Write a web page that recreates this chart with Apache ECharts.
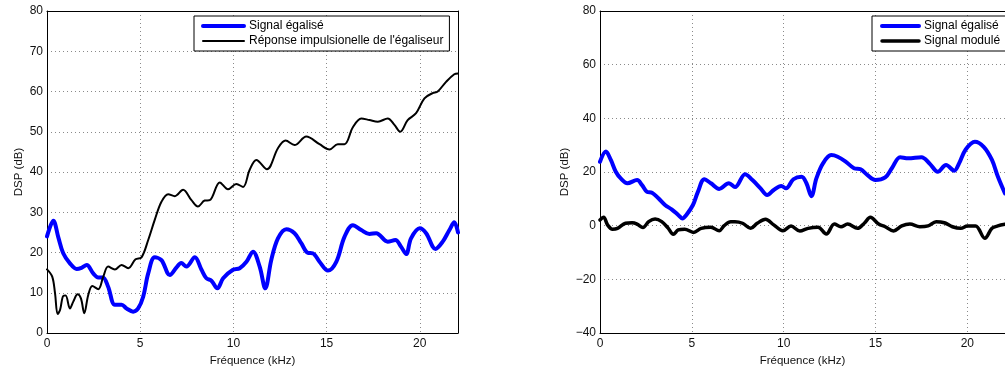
<!DOCTYPE html>
<html>
<head>
<meta charset="utf-8">
<script src="https://cdn.jsdelivr.net/npm/echarts@6/dist/echarts.min.js"></script>
<style>
  html, body { margin: 0; padding: 0; background: #fff; }
  #chart { width: 1005px; height: 372px; }
</style>
</head>
<body>
<div id="chart"></div>
<script>
// Frequency axis ticks (kHz) and DSP axis ranges
const freqTicks = [0, 5, 10, 15, 20];
const freqMax = 22.05;

// Left panel: equalised signal
const eqLeftFreq = [0, 0.34, 0.6, 0.87, 1.23, 1.59, 1.85, 2.13, 2.48, 2.75, 3.0, 3.28, 3.64, 4.0, 4.27, 4.62, 4.89, 5.16, 5.43, 5.78, 6.14, 6.59, 6.95, 7.2, 7.48, 7.93, 8.29, 8.55, 8.82, 9.14, 9.45, 9.98, 10.34, 10.70, 11.05, 11.41, 11.71, 12.03, 12.39, 12.84, 13.28, 13.64, 14.0, 14.26, 14.62, 15.07, 15.52, 15.96, 16.41, 16.86, 17.30, 17.66, 18.28, 18.69, 19.0, 19.27, 19.53, 20.0, 20.34, 20.84, 21.23, 21.59, 21.85, 22.05];
const eqLeftDb = [24.0, 27.9, 23.9, 19.8, 17.3, 15.9, 16.2, 16.9, 14.8, 13.8, 13.8, 11.5, 7.0, 7.0, 6.1, 5.3, 6.1, 9.0, 14.8, 18.8, 18.1, 14.4, 16.3, 17.4, 16.5, 18.8, 15.7, 13.6, 13.0, 11.1, 13.6, 15.7, 16.1, 17.7, 20.2, 16.5, 11.1, 18.1, 23.5, 25.8, 24.8, 22.3, 19.9, 19.8, 17.7, 15.5, 17.7, 23.9, 26.8, 25.6, 24.6, 24.8, 22.7, 23.1, 21.4, 19.6, 23.5, 26.0, 24.8, 20.9, 22.7, 25.6, 27.5, 25.0];

// Left panel: equaliser impulse response
const irFreq = [0, 0.28, 0.43, 0.57, 0.70, 0.87, 1.0, 1.23, 1.41, 1.64, 1.82, 2.0, 2.21, 2.43, 2.75, 3.02, 3.28, 3.64, 4.0, 4.36, 4.75, 5.07, 5.43, 5.78, 6.14, 6.50, 6.86, 7.30, 7.75, 8.10, 8.46, 8.73, 9.27, 9.71, 10.16, 10.52, 10.87, 11.23, 11.80, 12.39, 12.80, 13.28, 13.91, 14.62, 15.16, 15.60, 15.96, 16.41, 16.86, 17.30, 17.75, 18.28, 18.64, 18.95, 19.35, 19.80, 20.25, 20.69, 20.96, 21.41, 21.85, 22.05];
const irDb = [15.8, 14.0, 9.9, 4.7, 5.7, 9.2, 9.3, 6.1, 7.8, 9.6, 8.6, 4.9, 9.4, 11.7, 10.9, 14.0, 16.5, 15.8, 16.9, 16.1, 18.3, 18.8, 23.1, 28.1, 32.6, 34.5, 34.0, 35.6, 33.0, 31.4, 32.9, 33.0, 37.4, 35.7, 37.0, 36.3, 40.5, 43.0, 40.7, 45.9, 47.8, 46.7, 48.8, 46.9, 45.6, 46.9, 46.9, 51.1, 53.3, 52.9, 52.5, 53.3, 51.7, 50.0, 52.9, 54.6, 58.3, 59.6, 60.0, 62.4, 64.3, 64.5];

// Right panel: equalised signal
const eqRightFreq = [0, 0.32, 0.59, 0.86, 1.13, 1.49, 2.02, 2.29, 2.56, 2.83, 3.18, 3.54, 3.90, 4.26, 4.49, 4.70, 5.06, 5.33, 5.68, 6.04, 6.49, 7.02, 7.35, 7.90, 8.30, 8.74, 9.10, 9.46, 9.87, 10.13, 10.53, 10.98, 11.24, 11.51, 11.78, 12.14, 12.59, 12.94, 13.39, 13.83, 14.19, 14.55, 14.99, 15.53, 15.89, 16.34, 16.78, 17.50, 17.94, 18.39, 18.84, 19.29, 19.55, 19.91, 20.41, 20.89, 21.34, 21.66, 22.05];
const eqRightDb = [23.8, 27.6, 24.5, 20.1, 17.6, 15.8, 17.0, 15.1, 12.6, 12.3, 10.2, 7.7, 6.1, 4.0, 2.7, 4.0, 7.7, 12.6, 17.3, 15.8, 13.7, 15.8, 14.4, 19.2, 17.0, 13.9, 11.4, 13.3, 14.8, 13.9, 17.3, 18.2, 15.8, 11.0, 17.6, 23.2, 26.3, 25.7, 23.8, 21.4, 21.0, 18.9, 17.0, 18.0, 21.4, 25.5, 25.1, 25.5, 23.2, 20.1, 22.6, 20.5, 23.2, 28.4, 31.3, 29.4, 24.5, 18.3, 12.0];

// Right panel: modulated signal
const modFreq = [0, 0.2, 0.41, 0.68, 0.95, 1.39, 1.75, 2.02, 2.34, 2.65, 3.0, 3.36, 3.72, 3.99, 4.26, 4.61, 5.09, 5.51, 6.04, 6.49, 6.76, 7.12, 7.35, 7.76, 8.20, 8.56, 9.01, 9.46, 9.96, 10.40, 10.88, 11.33, 11.87, 12.32, 12.76, 13.12, 13.48, 14.02, 14.4, 14.72, 15.17, 15.53, 15.98, 16.43, 16.87, 17.41, 17.86, 18.30, 18.75, 19.19, 19.64, 20.0, 20.45, 20.95, 21.34, 21.66, 22.05];
const modDb = [2.1, 3.1, 0.3, -1.3, -1.0, 0.9, 1.1, 0.6, -0.7, 1.5, 2.5, 1.5, -1.0, -3.2, -1.6, -1.3, -2.5, -1.0, -0.6, -1.9, 0.0, 1.5, 1.5, 0.9, -1.0, 0.9, 2.4, 0.3, -1.9, -0.1, -2.0, -1.0, -0.6, -3.1, 0.6, -0.4, 0.6, -1.0, 1.0, 3.1, 0.6, -0.4, -2.0, -0.1, 0.6, -0.4, -0.1, 1.5, 1.1, -0.4, -1.0, -0.1, -0.1, -4.7, -1.0, -0.1, 0.5];

const NAME_EQ = 'Signal égalisé';
const NAME_IR = "Réponse impulsionelle de l'égaliseur";
const NAME_MOD = 'Signal modulé';

const FONT = '"Liberation Sans", Arial, Helvetica, sans-serif';
const zip = (xs, ys) => xs.map((x, i) => [x, ys[i]]);
const minusFmt = v => String(v).replace('-', '\u2212');

const grids = [
  { left: 47, top: 11, width: 411, height: 322 },
  { left: 600, top: 11, width: 411, height: 322 }
];

const gridLine = { show: true, lineStyle: { color: '#8a8a8a', type: [1, 3], width: 1 } };
const frame = { show: true, onZero: false, lineStyle: { color: '#000', width: 1 } };

function mainX(gi) {
  return {
    type: 'value', gridIndex: gi, min: 0, max: freqMax, interval: 5,
    name: 'Fréquence (kHz)', nameLocation: 'middle', nameGap: 13,
    nameTextStyle: { fontFamily: FONT, fontSize: 11.5, color: '#111' },
    axisLine: frame,
    axisTick: { show: false },
    axisLabel: {
      fontFamily: FONT, fontSize: 12, color: '#111', margin: 5,
      showMaxLabel: false,
      formatter: v => (freqTicks.indexOf(v) >= 0 ? minusFmt(v) : '')
    },
    splitLine: gridLine
  };
}
function topX(gi) {
  return {
    type: 'value', gridIndex: gi, position: 'top', min: 0, max: freqMax, interval: 5,
    axisLine: frame, axisTick: { show: false },
    axisLabel: { show: false }, splitLine: { show: false }
  };
}
function mainY(gi, min, max, step, gap) {
  return {
    type: 'value', gridIndex: gi, min: min, max: max, interval: step,
    name: 'DSP (dB)', nameLocation: 'middle', nameGap: gap, nameRotate: 90,
    nameTextStyle: { fontFamily: FONT, fontSize: 11.5, color: '#111' },
    axisLine: frame,
    axisTick: { show: false },
    axisLabel: { fontFamily: FONT, fontSize: 12, color: '#111', margin: 4, formatter: minusFmt },
    splitLine: gridLine
  };
}
function rightY(gi, min, max, step) {
  return {
    type: 'value', gridIndex: gi, position: 'right', min: min, max: max, interval: step,
    axisLine: frame, axisTick: { show: false },
    axisLabel: { show: false }, splitLine: { show: false }
  };
}

function line(name, xi, yi, data, color, width) {
  return {
    type: 'line', name: name, xAxisIndex: xi, yAxisIndex: yi,
    data: data, symbol: 'none', smooth: 0.35, animation: false,
    lineStyle: { color: color, width: width, join: 'round', cap: 'round' },
    itemStyle: { color: color }, z: width > 3 ? 3 : 4
  };
}

const legendBase = {
  orient: 'vertical', itemGap: 3, itemHeight: 13,
  backgroundColor: '#fff', borderColor: '#000', borderWidth: 1, borderRadius: 0,
  textStyle: { fontFamily: FONT, fontSize: 12, color: '#000' },
  itemStyle: { opacity: 0 },
  selectedMode: false
};
const legendItem = (name, color, width) => ({ name: name, lineStyle: { color: color, width: width } });

const chart = echarts.init(document.getElementById('chart'), null, { renderer: 'canvas' });
chart.setOption({
  animation: false,
  backgroundColor: '#fff',
  grid: grids,
  xAxis: [mainX(0), mainX(1), topX(0), topX(1)],
  yAxis: [mainY(0, 0, 80, 10, 22), mainY(1, -40, 80, 20, 29), rightY(0, 0, 80, 10), rightY(1, -40, 80, 20)],
  legend: [
    Object.assign({}, legendBase, {
      left: 194, top: 16, itemWidth: 41, padding: [4, 6, 4, 7],
      data: [legendItem(NAME_EQ, '#0000ff', 4), legendItem(NAME_IR, '#000', 2)]
    }),
    Object.assign({}, legendBase, {
      left: 872, top: 16, itemWidth: 37, padding: [4, 6, 4, 8],
      data: [legendItem(NAME_EQ, '#0000ff', 4), legendItem(NAME_MOD, '#000', 3.5)]
    })
  ],
  series: [
    line(NAME_EQ, 0, 0, zip(eqLeftFreq, eqLeftDb), '#0000ff', 4),
    line(NAME_IR, 0, 0, zip(irFreq, irDb), '#000000', 2),
    line(NAME_EQ, 1, 1, zip(eqRightFreq, eqRightDb), '#0000ff', 4),
    line(NAME_MOD, 1, 1, zip(modFreq, modDb), '#000000', 3.5)
  ]
});
</script>
</body>
</html>
